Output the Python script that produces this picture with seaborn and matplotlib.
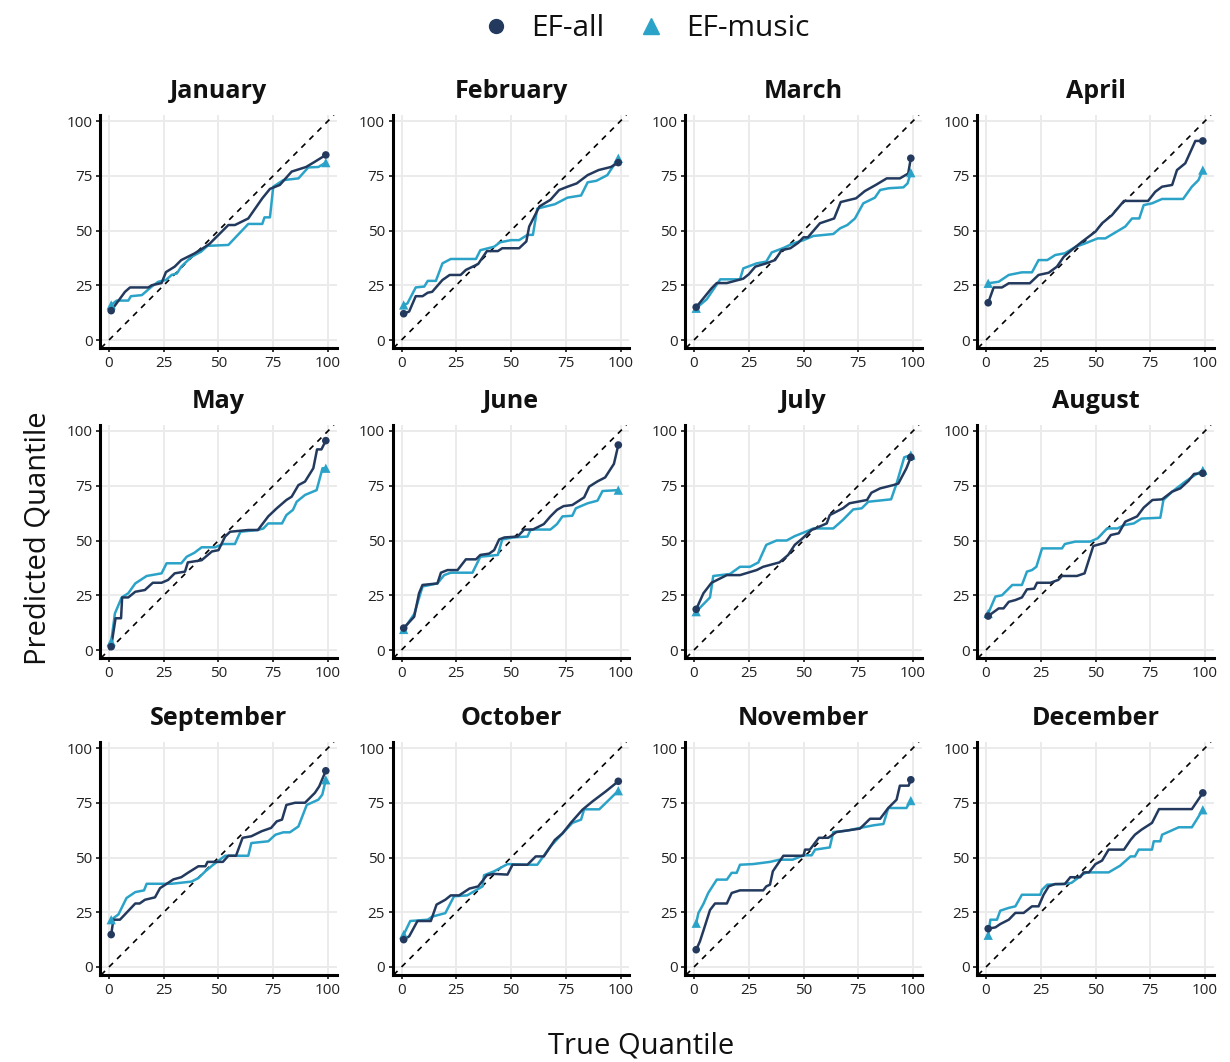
import matplotlib
matplotlib.use("Agg")
import matplotlib.pyplot as plt
import pandas as pd
import seaborn as sns
from matplotlib.lines import Line2D

# Quantile curves: true quantile (x) vs predicted quantile (y), per month and model
jan_all_x = [1, 7.3, 9.6, 18, 19.5, 24, 26, 30, 33, 39, 44, 46, 54.5, 57.5, 63.6, 70, 73.5, 78, 83.4, 90, 94, 99]
jan_all_y = [13.4, 22, 24, 24, 25, 26, 31, 33.5, 36.5, 39.5, 42.6, 44, 52.5, 52.5, 55.5, 64.7, 69, 70.8, 76.9, 79, 81.4, 84.5]
jan_music_x = [1, 3.5, 8.8, 10, 15, 19.5, 22.5, 26, 28.6, 31, 33, 37.7, 42, 45, 54.5, 63.6, 70, 71, 73.5, 75, 79.6, 86.5, 91, 95.6, 99]
jan_music_y = [16, 18, 18, 20, 20.5, 24.4, 26.6, 27.4, 29.7, 30.4, 33.5, 38, 40.3, 43, 43.4, 53, 53, 56, 56, 70, 73, 73.8, 78.8, 79, 81]

feb_all_x = [1, 3.5, 6.5, 9.6, 12, 14, 18.7, 22, 27, 29.4, 35, 39, 44, 46, 53.7, 57, 58.3, 63, 68, 72, 75.8, 80, 85, 90, 95.6, 99]
feb_all_y = [12, 13, 20, 20, 21.6, 22, 27.4, 29.7, 29.7, 32, 34.7, 40.6, 40.6, 41.9, 41.9, 45, 51.8, 61, 64, 68.5, 70, 71.5, 75.3, 77.6, 79, 81]
feb_music_x = [1, 2.7, 6.5, 10.4, 12, 15.7, 18.7, 22.5, 34, 36, 42.3, 45, 50, 53.7, 57.5, 60, 62, 70, 75.8, 82, 85, 89, 94, 99]
feb_music_y = [16, 16.7, 24, 24.4, 27, 27, 35, 37, 37, 41, 42.6, 44.6, 45.6, 45.6, 48, 48, 60, 62, 65, 66, 72, 72.7, 75.3, 83]

mar_all_x = [1, 8, 10.4, 15, 22.5, 25, 28, 33, 37, 40, 44, 47.6, 50, 52, 57.5, 64, 67, 74, 78, 83, 88, 94, 97.8, 99]
mar_all_y = [15, 23.6, 26, 26, 28, 30, 33.5, 35, 36.5, 41, 41.9, 44.4, 46.9, 46.9, 53.3, 55.5, 63, 64.7, 68, 70.8, 73.8, 73.8, 76, 83]
mar_music_x = [1, 5.8, 12, 21, 22.5, 28.6, 33, 35.5, 40.8, 45, 50, 54.5, 63.6, 66.7, 70, 73.5, 77.3, 82.6, 85, 89, 95.6, 97.5, 99]
mar_music_y = [14.5, 18.6, 27.7, 27.7, 32.7, 35, 35.8, 40, 42, 44, 45.6, 47.5, 48.4, 51, 52.5, 55.5, 62.4, 65, 68.5, 69.3, 69.7, 71.5, 76.4]

apr_all_x = [1, 3.5, 7.3, 10.4, 20, 24, 28.6, 32.4, 35.5, 39, 44, 50, 53, 57.5, 63, 74, 77.3, 80.4, 85, 87.2, 91, 95.6, 99]
apr_all_y = [17, 24, 24, 25.9, 25.9, 29.7, 30.7, 33.5, 38, 41, 45, 49.5, 53.3, 57, 63.5, 63.5, 67.7, 70, 70.8, 77.6, 80.7, 90.9, 90.9]
apr_music_x = [1, 5.8, 10.4, 16.4, 21, 24, 28, 31.6, 36, 41, 45, 51, 54.5, 63.6, 66.7, 70, 72, 75.8, 80.4, 90, 94, 97, 99]
apr_music_y = [25.9, 26.6, 29.7, 30.9, 30.9, 36.5, 36.5, 38.8, 39.6, 42.6, 44, 46.4, 46.4, 51.8, 55.5, 55.5, 61.6, 62.4, 64.4, 64.4, 70, 73, 77.6]

may_all_x = [1, 3, 5.5, 6, 8.8, 12, 16.4, 20, 24, 27, 30, 34.7, 36, 42.3, 47, 50, 53, 55.3, 63.6, 68, 72.7, 76.6, 81, 83.4, 86.5, 89.5, 93.3, 95, 97, 99]
may_all_y = [1.5, 14.5, 14.5, 24, 24, 26.6, 27.4, 30.7, 30.7, 32, 35, 35.8, 40, 41, 45, 45.6, 51.8, 54, 54.8, 54.8, 61, 64.7, 68.5, 70, 75.3, 76.9, 83, 91.6, 91.6, 95.6]
may_music_x = [1, 2.7, 5.8, 8.8, 12, 17.2, 24, 26.3, 33, 35.5, 39, 42.3, 48.4, 52, 57.5, 60, 68, 70.5, 72.7, 79, 81, 84, 85.7, 89.5, 94.8, 97.5, 99]
may_music_y = [3.8, 16.7, 24, 25.9, 30.4, 33.8, 35, 39.6, 39.6, 42.6, 44.4, 46.9, 46.9, 48.4, 48.4, 54, 54.8, 55.5, 57.8, 57.8, 61.6, 64, 67.7, 70.8, 73, 83, 83]

jun_all_x = [1, 5.8, 8, 9.6, 16.4, 18, 21, 25.6, 29.4, 34, 36, 40, 42.3, 44.6, 47, 53, 56, 60, 65, 68, 71, 74, 78, 83.4, 85.7, 89.5, 93, 97, 99]
jun_all_y = [10, 15.2, 25.9, 29.7, 30.4, 35.3, 36.5, 36.5, 41.4, 41.4, 43.4, 44, 45.6, 50.5, 51.4, 51.8, 55, 55, 57.5, 61, 64, 65.7, 66.2, 69.7, 74.6, 77, 78.8, 85, 93.6]
jun_music_x = [1, 5.8, 9.6, 16.4, 19.5, 22.5, 32.4, 36, 44, 46, 51, 57.5, 59, 68, 71, 73.5, 78, 79.6, 85, 89.5, 91.8, 99]
jun_music_y = [9.4, 16.4, 29, 30.4, 34.2, 35.3, 35.3, 42.6, 43.4, 50.5, 51.4, 51.8, 55, 55, 57.5, 61, 61.3, 64.7, 67, 68.2, 72.6, 73]

jul_all_x = [1, 4.3, 8, 15, 21, 28.6, 31.6, 39, 43, 46, 49, 53.7, 60.6, 62, 68, 71, 79, 81, 85, 91, 93.3, 97, 99]
jul_all_y = [18.6, 25.9, 30.7, 34.2, 34.2, 36.5, 38, 40, 43.4, 48, 50.5, 54.8, 57.8, 61.6, 64.7, 67, 68.5, 71.8, 73.8, 75.3, 76, 83, 88]
jul_music_x = [1, 7.3, 8.8, 16.4, 21, 25.6, 29.4, 33, 37.7, 42.3, 46, 51, 54.5, 63.6, 68, 72.7, 76.6, 79.6, 90, 92.5, 96, 99]
jul_music_y = [17.5, 24, 33.8, 34.7, 38, 38, 40, 48, 50, 50, 52, 54, 55.5, 55.5, 59.4, 64.2, 64.7, 67.7, 68.8, 76, 88, 89]

aug_all_x = [1, 5.8, 8, 10.4, 13.4, 16.4, 18.7, 22, 23.3, 29.4, 33, 34.7, 41.5, 45, 49, 54.5, 57, 60.6, 63.6, 69, 72, 76, 80.4, 85, 88.7, 92.5, 95, 99]
aug_all_y = [15.5, 19, 19, 22, 22.8, 24, 27.7, 28, 30.7, 30.7, 32, 33.8, 33.8, 35, 47.5, 49, 52.5, 53.3, 58.6, 61, 65, 68.5, 68.8, 72.3, 73.8, 77.3, 80.4, 80.7]
aug_music_x = [1, 4.3, 7.3, 12, 16.4, 18.7, 21, 23, 25.6, 34.7, 36, 40.8, 47.6, 51, 55.3, 60, 63, 67.5, 71, 79.6, 81, 85, 91, 95.6, 99]
aug_music_y = [16.7, 24.4, 25, 29.7, 29.7, 35.8, 36.5, 38, 46.4, 46.4, 48.4, 49.5, 49.5, 51, 55.5, 55.5, 57, 57.8, 60, 60.4, 68.5, 72.3, 76.9, 80, 82]

sep_all_x = [1, 2, 5, 12, 14, 16.4, 21, 23.3, 29.4, 33, 36, 40.8, 44, 45, 52, 54.5, 58, 61, 65, 69.7, 74, 76.6, 79, 81, 85, 89.5, 94, 96, 99]
sep_all_y = [14.8, 21.6, 21.6, 29, 29, 30.7, 31.8, 36, 40, 41, 43, 46, 46, 48, 48, 50.8, 50.8, 59, 59.7, 62, 63.5, 66.5, 67.3, 74, 75, 75, 79.5, 82.5, 89.6]
sep_music_x = [1, 4.3, 8, 12, 16, 17.2, 28.6, 37.7, 40.8, 44, 47.6, 53, 63.6, 65, 72.7, 76, 79.6, 82.6, 86.5, 90.3, 95.6, 97.4, 99]
sep_music_y = [21.6, 24, 31.5, 34.2, 35, 38, 38, 39, 40.6, 43.7, 46.7, 50.8, 50.8, 56.6, 57.4, 60.4, 61.5, 61.5, 64.2, 74, 76.4, 78.7, 85.5]

oct_all_x = [1, 3.5, 7.3, 13.4, 16, 20, 22.5, 26.3, 31, 35, 39, 42.3, 48.4, 50.7, 57.5, 61.3, 65, 70, 73.5, 77.3, 82.6, 87.2, 93.3, 99]
oct_all_y = [12.5, 14, 21, 21, 28.5, 30.7, 32.7, 32.7, 35.8, 36.8, 41.9, 42.5, 42.2, 46.7, 46.7, 50.5, 50.5, 58, 61, 65.8, 71.8, 75.6, 80.2, 84.8]
oct_music_x = [1, 4, 12, 14, 20, 24, 30, 37, 37.7, 42.3, 48.4, 57.5, 62, 68, 73.5, 78, 82, 83.4, 90.3, 94, 99]
oct_music_y = [14.8, 21, 21.6, 23, 24.6, 32.3, 32.7, 36.8, 41.9, 43.7, 47, 46.7, 46.7, 55, 61, 65.8, 67.3, 72, 72, 75.6, 80.5]

nov_all_x = [1, 2.7, 4.3, 7.3, 9.6, 15, 17.2, 21, 31.6, 33, 34.7, 36, 40.8, 50, 50.7, 52.9, 57, 61.3, 65, 75.8, 80.4, 85, 88.7, 92.5, 94, 98, 99]
nov_all_y = [7.9, 11.7, 16.6, 26, 29, 29, 33.8, 35, 35, 36.8, 37.6, 43.7, 50.8, 50.8, 53.6, 53.6, 59, 59, 61.6, 63.2, 67.7, 67.7, 72.6, 76.4, 82.8, 82.8, 85.5]
nov_music_x = [1, 2, 4.3, 6.5, 10.4, 15, 17.2, 19.5, 21, 27, 34.7, 39, 45, 50, 53.7, 55.3, 60, 62, 63.6, 70, 75.8, 82, 86.5, 88.7, 97, 99]
nov_music_y = [20, 24.6, 28.8, 33.8, 39.9, 39.9, 43, 43, 46.7, 47, 48, 49, 49, 51, 51, 53.6, 54.3, 54.6, 61.6, 62.3, 63.5, 64.7, 65.3, 72.6, 72.6, 76]

dec_all_x = [1, 4.3, 6.5, 10.4, 13.4, 17.2, 21, 24, 26.3, 28.6, 31.6, 36, 38.5, 43, 44.6, 47, 50, 53, 56, 63, 66, 68, 71, 75.8, 79, 94, 99]
dec_all_y = [17.5, 18.1, 19.6, 21.6, 24.7, 24.7, 27.7, 27.7, 33, 36.8, 37.9, 37.9, 41, 41, 43.2, 43.2, 47, 48.6, 53.6, 53.6, 58, 60.4, 62.7, 65.8, 72.1, 72.1, 79.5]
dec_music_x = [1, 2, 5, 6.5, 10.4, 13.4, 16.4, 24.8, 25.6, 28, 35, 39, 44, 46, 56, 61.3, 66, 68, 69.7, 75.8, 76.6, 79.6, 80.4, 84, 88, 94, 99]
dec_music_y = [14.5, 21.6, 21.6, 25.7, 27, 27.7, 33, 33, 35.3, 37.6, 37.9, 38.4, 42.2, 43.2, 43.2, 46.3, 50.5, 50.5, 53.6, 53.6, 57.4, 57.4, 60.4, 62, 63.8, 63.8, 71.8]

MONTHS = ["January", "February", "March", "April", "May", "June",
          "July", "August", "September", "October", "November", "December"]
TICKS = [0, 25, 50, 75, 100]
MODELS = ["EF-all", "EF-music"]

curves = {
    "January": (jan_all_x, jan_all_y, jan_music_x, jan_music_y),
    "February": (feb_all_x, feb_all_y, feb_music_x, feb_music_y),
    "March": (mar_all_x, mar_all_y, mar_music_x, mar_music_y),
    "April": (apr_all_x, apr_all_y, apr_music_x, apr_music_y),
    "May": (may_all_x, may_all_y, may_music_x, may_music_y),
    "June": (jun_all_x, jun_all_y, jun_music_x, jun_music_y),
    "July": (jul_all_x, jul_all_y, jul_music_x, jul_music_y),
    "August": (aug_all_x, aug_all_y, aug_music_x, aug_music_y),
    "September": (sep_all_x, sep_all_y, sep_music_x, sep_music_y),
    "October": (oct_all_x, oct_all_y, oct_music_x, oct_music_y),
    "November": (nov_all_x, nov_all_y, nov_music_x, nov_music_y),
    "December": (dec_all_x, dec_all_y, dec_music_x, dec_music_y),
}

rows = []
for month, (ax_x, ax_y, mx, my) in curves.items():
    for model, xs, ys in (("EF-all", ax_x, ax_y), ("EF-music", mx, my)):
        n = len(xs)
        for k, (x, y) in enumerate(zip(xs, ys)):
            rows.append((month, model, x, y, k == 0 or k == n - 1))
df = pd.DataFrame(rows, columns=["month", "model", "true_q", "pred_q", "end"])

COLORS = {"EF-all": "#233a5e", "EF-music": "#2ba3c8"}
MARKERS = {"EF-all": "o", "EF-music": "^"}

sns.set_theme(style="white")
plt.rcParams["font.family"] = ["Open Sans", "DejaVu Sans"]

W, H = 1230, 1062
fig = plt.figure(figsize=(W / 100, H / 100), dpi=100)

S = 2.19                      # pixels per data unit
X0 = [109, 401.5, 694, 986]   # pixel column of x = 0 in each column
Y0 = [340, 650, 967]          # pixel row of y = 0 in each row
XL = (-3.9, 104.0)
YL = (-3.65, 102.7)
w_px = (XL[1] - XL[0]) * S
h_px = (YL[1] - YL[0]) * S

draw_order = ["EF-music", "EF-all"]

for i, month in enumerate(MONTHS):
    r, c = divmod(i, 4)
    left_px = X0[c] + XL[0] * S
    bottom_px = Y0[r] - YL[0] * S
    ax = fig.add_axes([left_px / W, (H - bottom_px) / H, w_px / W, h_px / H])
    ax.set_axisbelow(True)
    ax.grid(True, color="#EBEBEB", lw=1.4)

    ax.axline((0, 0), slope=1, color="black", lw=1.2, ls=(0, (3.4, 3.4)), zorder=1.5)

    sub = df[df["month"] == month]
    for model in draw_order:
        d = sub[sub["model"] == model]
        sns.lineplot(data=d, x="true_q", y="pred_q", color=COLORS[model],
                     estimator=None, sort=False, lw=1.8, ax=ax, zorder=2)
    for model in draw_order:
        e = sub[(sub["model"] == model) & sub["end"]]
        sns.scatterplot(data=e, x="true_q", y="pred_q", color=COLORS[model],
                        marker=MARKERS[model], s=30 if model == "EF-all" else 45,
                        edgecolor="none", ax=ax, zorder=3, legend=False)

    ax.set_xlim(*XL)
    ax.set_ylim(*YL)
    ax.set_xticks(TICKS)
    ax.set_yticks(TICKS)
    ax.tick_params(axis="both", direction="out", length=3.2, width=1.1,
                   color="black", labelsize=11, labelcolor="#222222", pad=2.5,
                   left=True, bottom=True)
    for side in ("top", "right"):
        ax.spines[side].set_visible(False)
    for side in ("left", "bottom"):
        ax.spines[side].set_color("black")
        ax.spines[side].set_linewidth(2.2)
    ax.set_xlabel("")
    ax.set_ylabel("")
    ax.text(0.5, 1 + 24 / h_px, month, transform=ax.transAxes, ha="center",
            va="center", fontsize=18, fontweight="bold", color="#111111")

fig.text(641 / W, 1 - 1046 / H, "True Quantile", ha="center", va="center",
         fontsize=21, color="#111111")
fig.text(38 / W, 1 - 538 / H, "Predicted Quantile", ha="center", va="center",
         rotation=90, fontsize=21, color="#111111")

handles = [
    Line2D([], [], ls="none", marker="o", markersize=10, color=COLORS["EF-all"]),
    Line2D([], [], ls="none", marker="^", markersize=11, color=COLORS["EF-music"]),
]
fig.legend(handles, MODELS, loc="center", bbox_to_anchor=(645 / W, 1 - 29 / H),
           ncol=2, frameon=False, fontsize=21.5, handlelength=1.0,
           handletextpad=0.68, columnspacing=1.05, labelcolor="#111111")

fig.savefig("out.png", dpi=100)
